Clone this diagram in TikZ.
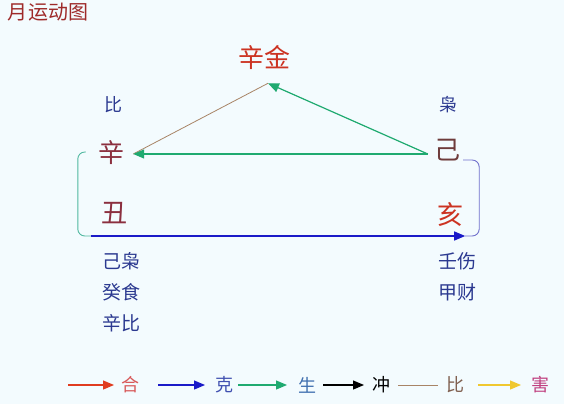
\documentclass[tikz,border=0pt]{standalone}
\usepackage{fontspec}
\setmainfont{Noto Sans CJK SC}
\usetikzlibrary{arrows.meta,calc}
\definecolor{bg}{HTML}{F3FBFE}
\definecolor{titlec}{HTML}{9E2A2A}
\definecolor{redc}{HTML}{CC3322}
\definecolor{bluet}{HTML}{2B3990}
\definecolor{maroon}{HTML}{8B2F3F}
\definecolor{brownt}{HTML}{6E3B3B}
\definecolor{greenc}{HTML}{1FAA70}
\definecolor{brownl}{HTML}{A88466}
\definecolor{bluea}{HTML}{1A1AC8}
\definecolor{tealb}{HTML}{50B8A0}
\definecolor{purpb}{HTML}{7070CC}
\definecolor{lred}{HTML}{E03C20}
\definecolor{hec}{HTML}{D85A5A}
\definecolor{kec}{HTML}{4050B0}
\definecolor{shc}{HTML}{4070B0}
\definecolor{bic}{HTML}{806050}
\definecolor{yelc}{HTML}{F0C830}
\definecolor{haic}{HTML}{C04080}
\tikzset{
  txt/.style={inner sep=0pt},
  big/.style={txt,font=\fontsize{26}{30}\selectfont},
  mid/.style={txt,font=\fontsize{19}{23}\selectfont},
  small/.style={txt,font=\fontsize{18}{22}\selectfont},
  tip/.style={-{Triangle[length=11pt,width=9pt]}},
  garrow/.style={tip,draw=greenc,fill=greenc,line width=1.2pt},
  brline/.style={draw=brownl,line width=0.8pt},
  barrow/.style={tip,draw=bluea,fill=bluea,line width=1.2pt},
  lgarrow/.style={tip,line width=1.2pt},
}
\begin{document}
\begin{tikzpicture}[x=1pt,y=-1pt]
\fill[bg] (0,0) rectangle (564,404);
% title
\node[txt,font=\fontsize{20}{24}\selectfont,text=titlec] (title) at (48,12) {月运动图};
% main characters
\node[big,text=redc] (xinjin) at (264,58) {辛金};
\node[small,text=bluet] (bi) at (113,105) {比};
\node[small,text=bluet] (xiao) at (448,105) {枭};
\node[big,text=maroon] (xin) at (111,153) {辛};
\node[big,text=brownt] (ji) at (447,150) {己};
\node[big,text=maroon] (chou) at (114,213) {丑};
\node[big,text=redc] (hai) at (450,215) {亥};
% hidden stems
\node[mid,text=bluet] (l1) at (121,261) {己枭};
\node[mid,text=bluet] (l2) at (121,292) {癸食};
\node[mid,text=bluet] (l3) at (121,323) {辛比};
\node[mid,text=bluet] (r1) at (457,261) {壬伤};
\node[mid,text=bluet] (r2) at (457,292) {甲财};
% connection points
\coordinate (apex) at ($(xinjin.south)+(4,13)$);
\coordinate (xinR) at ($(xin.east)+(9,1)$);
\coordinate (jiL) at ($(ji.west)+(-6,4)$);
\coordinate (lbTop) at ($(xin.west)+(-12,-1)$);
\coordinate (rbTop) at ($(ji.east)+(3,10)$);
\coordinate (ctrL) at ($(chou.west)+(-10,23)$);
\coordinate (ctrR) at ($(hai.east)+(2,21)$);
% connectors
\draw[brline] (apex) -- (xinR);
\draw[garrow] (jiL) -- (apex);
\draw[garrow] (jiL) -- (xinR);
\draw[tealb,line width=0.9pt,rounded corners=7pt] (lbTop) -| ($(ctrL)+(-13,0)$) -- (ctrL);
\draw[purpb,line width=0.9pt,rounded corners=7pt] (rbTop) -| ($(ctrR)+(14,0)$) -- (ctrR);
\draw[barrow] (ctrL) -- (ctrR);
% legend
\coordinate (a1) at (68,385); \coordinate (a2) at (114,385);
\coordinate (b1) at (158,385); \coordinate (b2) at (205,385);
\coordinate (c1) at (238,385); \coordinate (c2) at (287,385);
\coordinate (d1) at (323,385); \coordinate (d2) at (364,385);
\coordinate (e1) at (398,385); \coordinate (e2) at (438,385);
\coordinate (f1) at (478,385); \coordinate (f2) at (521,385);
\draw[lgarrow,draw=lred,fill=lred] (a1) -- (a2);
\node[small,text=hec] (lhe) at (130,385) {合};
\draw[lgarrow,draw=bluea,fill=bluea] (b1) -- (b2);
\node[small,text=kec] (lke) at (224,385) {克};
\draw[lgarrow,draw=greenc,fill=greenc] (c1) -- (c2);
\node[small,text=shc] (lsh) at (307,385) {生};
\draw[lgarrow,draw=black,fill=black] (d1) -- (d2);
\node[small,text=black] (lch) at (381,385) {冲};
\draw[brline] (e1) -- (e2);
\node[small,text=bic] (lbi) at (455,385) {比};
\draw[lgarrow,draw=yelc,fill=yelc] (f1) -- (f2);
\node[small,text=haic] (lha) at (540,385) {害};
\end{tikzpicture}
\end{document}
